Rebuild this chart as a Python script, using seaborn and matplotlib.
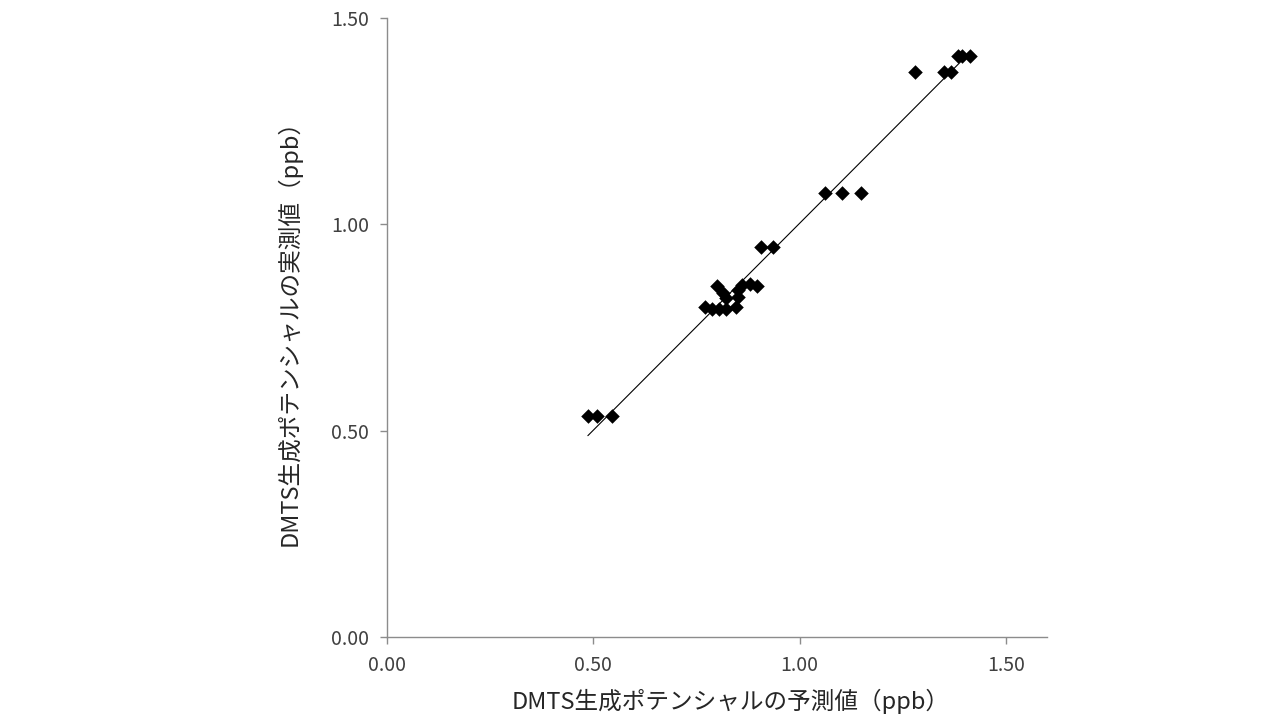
import numpy as np
import pandas as pd
import matplotlib
matplotlib.use("Agg")
import matplotlib.pyplot as plt
import seaborn as sns

# Data
predicted = [0.487, 0.508, 0.545,
             0.772, 0.789, 0.806, 0.823, 0.801, 0.814, 0.821, 0.847, 0.850, 0.850, 0.860, 0.879, 0.898,
             0.906, 0.935,
             1.063, 1.102, 1.148,
             1.281, 1.351, 1.368,
             1.383, 1.395, 1.414]
measured = [0.535, 0.535, 0.535,
            0.799, 0.794, 0.794, 0.794, 0.850, 0.833, 0.821, 0.799, 0.823, 0.840, 0.852, 0.855, 0.850,
            0.944, 0.944,
            1.075, 1.075, 1.075,
            1.368, 1.368, 1.368,
            1.409, 1.409, 1.409]
x_ticks = [0.0, 0.5, 1.0, 1.5]
y_ticks = [0.0, 0.5, 1.0, 1.5]
x_label = "DMTS生成ポテンシャルの予測値（ppb）"
y_label = "DMTS生成ポテンシャルの実測値（ppb）"

sns.set_theme(style="white")
plt.rcParams['font.family'] = ['Noto Sans CJK JP', 'DejaVu Sans']

df = pd.DataFrame({"pred": predicted, "meas": measured})

fig = plt.figure(figsize=(12.8, 7.2), dpi=100)
ax = fig.add_axes([0.3023, 0.1153, 0.5157, 0.8597])

# Linear trendline spanning the data range
coef = np.polyfit(df["pred"], df["meas"], 1)
xs = np.array([df["pred"].min(), df["pred"].max()])
sns.lineplot(x=xs, y=np.polyval(coef, xs), ax=ax, color="black", linewidth=0.8)

sns.scatterplot(data=df, x="pred", y="meas", ax=ax, marker="D", s=55,
                color="black", edgecolor="black", linewidth=0, zorder=3)

ax.set_xlim(0, 1.6)
ax.set_ylim(0, 1.5)
ax.set_xticks(x_ticks)
ax.set_yticks(y_ticks)
ax.set_xticklabels([f"{v:.2f}" for v in x_ticks], fontsize=14, color="#404040")
ax.set_yticklabels([f"{v:.2f}" for v in y_ticks], fontsize=14, color="#404040")
ax.set_xlabel(x_label, fontsize=17, color="#262626")
ax.set_ylabel(y_label, fontsize=17, color="#262626")
ax.xaxis.set_label_coords(0.52, -0.083)
ax.yaxis.set_label_coords(-0.13, 0.5)

for s in ["top", "right"]:
    ax.spines[s].set_visible(False)
for s in ["left", "bottom"]:
    ax.spines[s].set_color("#8c8c8c")
    ax.spines[s].set_linewidth(1.0)
ax.tick_params(axis="both", which="both", direction="out", length=5, width=1,
               color="#8c8c8c", bottom=True, left=True, pad=8)

fig.savefig("out.png", dpi=100)
